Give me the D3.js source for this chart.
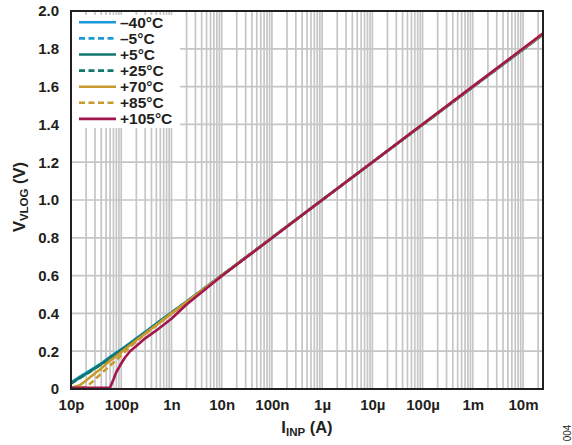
<!DOCTYPE html>
<html>
<head>
<meta charset="utf-8">
<script src="https://cdn.jsdelivr.net/npm/d3@7"></script>
<style>
  body { margin: 0; background: #fff; }
  text { font-family: "Liberation Sans", Arial, sans-serif; fill: #231f20; }
</style>
</head>
<body>
<div id="chart"></div>
<script>
// input current (A), shared by every series
const currents = [1e-11, 1.5e-11, 2e-11, 3e-11, 4e-11, 5e-11, 6e-11, 7e-11, 8e-11,
    1e-10, 1.2e-10, 1.5e-10, 2e-10, 3e-10, 5e-10, 1e-9, 2e-9, 1e-8, 1e-7, 1e-6,
    1e-5, 1e-4, 1e-3, 1e-2, 2.5e-2];

// VLOG (V) per temperature
const vNeg40 = [0.035, 0.065, 0.085, 0.115, 0.135, 0.155, 0.170, 0.182, 0.193, 0.210, 0.225, 0.243, 0.268, 0.302, 0.347, 0.405, 0.463, 0.601, 0.800, 1.000, 1.200, 1.399, 1.598, 1.797, 1.876];
const vNeg5  = [0.032, 0.062, 0.083, 0.112, 0.134, 0.152, 0.168, 0.180, 0.191, 0.208, 0.223, 0.241, 0.266, 0.300, 0.345, 0.404, 0.462, 0.600, 0.800, 1.000, 1.200, 1.399, 1.598, 1.797, 1.876];
const vPos5  = [0.030, 0.060, 0.080, 0.110, 0.132, 0.150, 0.166, 0.178, 0.190, 0.206, 0.222, 0.240, 0.265, 0.299, 0.344, 0.403, 0.462, 0.600, 0.800, 1.000, 1.200, 1.399, 1.598, 1.797, 1.877];
const vPos25 = [0.028, 0.058, 0.078, 0.108, 0.130, 0.148, 0.164, 0.176, 0.188, 0.205, 0.221, 0.239, 0.264, 0.298, 0.343, 0.402, 0.461, 0.600, 0.800, 1.000, 1.200, 1.399, 1.599, 1.798, 1.877];
const vPos70 = [0.006, 0.020, 0.045, 0.083, 0.108, 0.132, 0.150, 0.163, 0.175, 0.194, 0.212, 0.232, 0.258, 0.294, 0.339, 0.400, 0.460, 0.600, 0.800, 1.000, 1.200, 1.400, 1.600, 1.799, 1.878];
const vPos85 = [0.006, 0.006, 0.010, 0.050, 0.083, 0.105, 0.124, 0.140, 0.153, 0.178, 0.198, 0.222, 0.252, 0.290, 0.337, 0.398, 0.459, 0.599, 0.800, 1.000, 1.200, 1.400, 1.600, 1.800, 1.879];
const vPos105 = [0.006, 0.006, 0.006, 0.006, 0.006, 0.006, 0.008, 0.050, 0.090, 0.135, 0.168, 0.200, 0.228, 0.268, 0.310, 0.372, 0.447, 0.598, 0.799, 1.000, 1.200, 1.401, 1.601, 1.802, 1.882];

const tempLabels = ["\u201340°C", "\u20135°C", "+5°C", "+25°C", "+70°C", "+85°C", "+105°C"];
const seriesValues = [vNeg40, vNeg5, vPos5, vPos25, vPos70, vPos85, vPos105];
const seriesColors = ["#1a9bd7", "#1a9bd7", "#11776f", "#11776f", "#c99a2e", "#c99a2e", "#a3174f"];
const seriesDashed = [false, true, false, true, false, true, false];

const xTickValues = [1e-11, 1e-10, 1e-9, 1e-8, 1e-7, 1e-6, 1e-5, 1e-4, 1e-3, 1e-2];
const xTickLabels = ["10p", "100p", "1n", "10n", "100n", "1\u00b5", "10\u00b5", "100\u00b5", "1m", "10m"];
const yTickValues = [0, 0.2, 0.4, 0.6, 0.8, 1.0, 1.2, 1.4, 1.6, 1.8, 2.0];

function chart() {
    const width = 572,
        height = 445;
    const left = 71, right = 543, top = 11, bottom = 389;

    const svg = d3.select("#chart").append("svg")
        .attr("width", width)
        .attr("height", height);

    const x = d3.scaleLog().domain([1e-11, 2.5e-2]).range([left, right]);
    const y = d3.scaleLinear().domain([0, 2]).range([bottom, top]);

    // vertical grid, 1..9 per decade
    const minor = d3.range(-11, -1).flatMap(k => d3.range(1, 10).map(m => m * Math.pow(10, k)))
        .filter(v => v > 1e-11 && v < 2.5e-2);

    svg.append("g")
        .attr("stroke", "#c6c6c6")
        .attr("stroke-width", 1.7)
        .selectAll("line").data(minor)
        .join("line")
        .attr("x1", d => x(d)).attr("x2", d => x(d))
        .attr("y1", top).attr("y2", bottom);

    svg.append("g")
        .attr("stroke", "#c6c6c6")
        .attr("stroke-width", 1.7)
        .selectAll("line").data(yTickValues.slice(1, -1))
        .join("line")
        .attr("x1", left).attr("x2", right)
        .attr("y1", d => y(d)).attr("y2", d => y(d));

    // legend background hides the grid behind it
    svg.append("rect")
        .attr("x", left + 1).attr("y", 15)
        .attr("width", 108).attr("height", 113)
        .attr("fill", "white");

    // frame
    svg.append("rect")
        .attr("x", left).attr("y", top)
        .attr("width", right - left).attr("height", bottom - top)
        .attr("fill", "none")
        .attr("stroke", "#231f20")
        .attr("stroke-width", 2);

    svg.append("clipPath").attr("id", "plot-clip")
        .append("rect")
        .attr("x", left + 1).attr("y", top)
        .attr("width", right - left - 2).attr("height", bottom - top - 1);

    const line = d3.line()
        .x((d, i) => x(currents[i]))
        .y(d => y(d));

    svg.append("g")
        .attr("clip-path", "url(#plot-clip)")
        .attr("fill", "none")
        .attr("stroke-width", 2.6)
        .attr("stroke-linejoin", "round")
        .selectAll("path").data(seriesValues)
        .join("path")
        .attr("stroke", (d, i) => seriesColors[i])
        .attr("stroke-dasharray", (d, i) => seriesDashed[i] ? "6,3.5" : null)
        .attr("d", line);

    // axes
    const xAxis = svg.append("g")
        .attr("transform", `translate(0,${bottom})`)
        .call(d3.axisBottom(x).tickValues(xTickValues)
            .tickFormat((d, i) => xTickLabels[i])
            .tickSize(0).tickPadding(10));
    xAxis.select(".domain").remove();
    xAxis.selectAll("text")
        .style("font", "bold 15px 'Liberation Sans', Arial, sans-serif")
        .attr("fill", "#231f20");

    const yAxis = svg.append("g")
        .attr("transform", `translate(${left},0)`)
        .call(d3.axisLeft(y).tickValues(yTickValues)
            .tickFormat(d => d === 0 ? "0" : d.toFixed(1))
            .tickSize(0).tickPadding(12));
    yAxis.select(".domain").remove();
    yAxis.selectAll("text")
        .style("font", "bold 15px 'Liberation Sans', Arial, sans-serif")
        .attr("fill", "#231f20");

    // legend
    const legend = svg.append("g")
        .selectAll("g").data(tempLabels)
        .join("g")
        .attr("transform", (d, i) => `translate(79,${22.3 + i * 16.1})`);

    legend.append("line")
        .attr("x1", 0).attr("x2", 37)
        .attr("stroke", (d, i) => seriesColors[i])
        .attr("stroke-width", 2.6)
        .attr("stroke-dasharray", (d, i) => seriesDashed[i] ? "6,3.5" : null);

    legend.append("text")
        .attr("x", 41)
        .attr("dy", "0.36em")
        .style("font", "bold 15.5px 'Liberation Sans', Arial, sans-serif")
        .text(d => d);

    // axis titles
    const xTitle = svg.append("text")
        .attr("x", 307).attr("y", 433)
        .attr("text-anchor", "middle")
        .style("font", "bold 16.5px 'Liberation Sans', Arial, sans-serif");
    xTitle.append("tspan").text("I");
    xTitle.append("tspan").attr("dy", 3).style("font-size", "11.5px").text("INP");
    xTitle.append("tspan").attr("dy", -3).text(" (A)");

    const yTitle = svg.append("text")
        .attr("transform", "translate(25,197) rotate(-90)")
        .attr("text-anchor", "middle")
        .style("font", "bold 16.5px 'Liberation Sans', Arial, sans-serif");
    yTitle.append("tspan").text("V");
    yTitle.append("tspan").attr("dy", 3).style("font-size", "11.5px").text("VLOG");
    yTitle.append("tspan").attr("dy", -3).text(" (V)");

    svg.append("text")
        .attr("transform", "translate(571,433) rotate(-90)")
        .attr("text-anchor", "middle")
        .style("font", "10px 'Liberation Sans', Arial, sans-serif")
        .text("004");
}

window.onload = function() {
    chart();
};
</script>
</body>
</html>
